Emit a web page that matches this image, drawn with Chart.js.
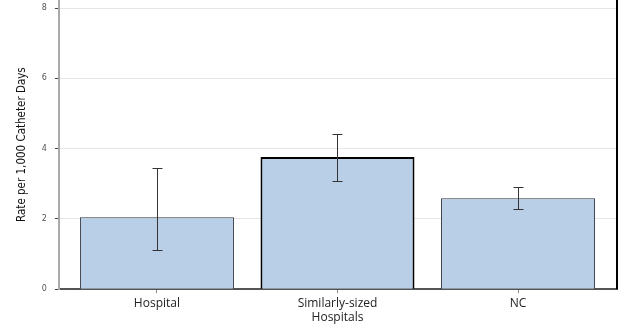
<!DOCTYPE html>
<html>
<head>
<meta charset="utf-8">
<script src="https://cdn.jsdelivr.net/npm/chart.js@4"></script>
<style>
  html, body { margin: 0; padding: 0; background: #fff; }
  #wrap { width: 622px; height: 328px; }
</style>
</head>
<body>
<div id="wrap"><canvas id="rateChart"></canvas></div>
<script>
// Rate per 1,000 catheter days - bar chart with confidence intervals
const categories = [["Hospital"], ["Similarly-sized", "Hospitals"], ["NC"]];
const rates = [2.05, 3.76, 2.59];
const lowerCI = [1.11, 3.08, 2.28];
const upperCI = [3.45, 4.43, 2.9];
const yTicks = [0, 2, 4, 6, 8];

// draws the error bars and the right frame line
const errorBars = {
  id: "errorBars",
  afterDatasetsDraw(chart) {
    const { ctx, chartArea, scales } = chart;
    const meta = chart.getDatasetMeta(0);
    ctx.save();
    ctx.strokeStyle = "#333";
    ctx.lineWidth = 1;
    meta.data.forEach((bar, i) => {
      const x = Math.round(bar.x) + 0.5;
      const yLo = Math.round(scales.y.getPixelForValue(lowerCI[i])) + 0.5;
      const yHi = Math.round(scales.y.getPixelForValue(upperCI[i])) + 0.5;
      ctx.beginPath();
      ctx.moveTo(x, yLo);
      ctx.lineTo(x, yHi);
      ctx.moveTo(x - 5, yLo);
      ctx.lineTo(x + 5, yLo);
      ctx.moveTo(x - 5, yHi);
      ctx.lineTo(x + 5, yHi);
      ctx.stroke();
    });
    // right frame
    ctx.strokeStyle = "#000";
    ctx.lineWidth = 2;
    ctx.beginPath();
    ctx.moveTo(chartArea.right, 0);
    ctx.lineTo(chartArea.right, chartArea.bottom);
    ctx.stroke();
    ctx.restore();
  },
};

const ctx = document.getElementById("rateChart");

new Chart(ctx, {
  type: "bar",
  data: {
    datasets: [
      {
        label: "Rate",
        data: rates.map((r, i) => ({ x: i, y: r })),
        backgroundColor: "rgb(185, 207, 231)",
        borderColor: ["#2f343b", "#000000", "#2f343b"],
        borderWidth: [1, 2, 1],
        borderSkipped: "bottom",
        barPercentage: 0.853,
        categoryPercentage: 1,
      },
    ],
  },
  options: {
    responsive: true,
    maintainAspectRatio: false,
    animation: false,
    layout: { padding: { top: 0, right: 5, bottom: 0, left: 15 } },
    plugins: {
      legend: { display: false },
      tooltip: { enabled: false },
    },
    scales: {
      x: {
        type: "linear",
        offset: false,
        min: -0.543,
        max: 2.548,
        afterBuildTicks: (axis) => {
          axis.ticks = categories.map((c, i) => ({ value: i }));
        },
        grid: {
          offset: false,
          drawOnChartArea: false,
          drawTicks: true,
          tickLength: 4,
          tickColor: "#888",
        },
        border: { color: "#555", width: 2 },
        ticks: {
          color: "#222",
          padding: 3,
          maxRotation: 0,
          font: { family: "Open Sans", size: 12 },
          callback: (value) => categories[value],
        },
      },
      y: {
        min: 0,
        max: 8.23,
        afterBuildTicks: (axis) => {
          axis.ticks = yTicks.map((v) => ({ value: v }));
        },
        afterFit: (axis) => {
          axis.paddingTop = 0;
        },
        grid: {
          color: "#e6e6e6",
          drawTicks: true,
          tickLength: 4,
          tickColor: "#444",
        },
        border: { color: "#aaa", width: 2 },
        ticks: {
          color: "#555",
          padding: 8,
          font: { family: "DejaVu Sans", size: 8 },
        },
        title: {
          display: true,
          text: "Rate per 1,000 Catheter Days",
          color: "#111",
          padding: { top: 0, bottom: 5 },
          font: { family: "DejaVu Sans Condensed", size: 11.5 },
        },
      },
    },
  },
  plugins: [errorBars],
});
</script>
</body>
</html>
